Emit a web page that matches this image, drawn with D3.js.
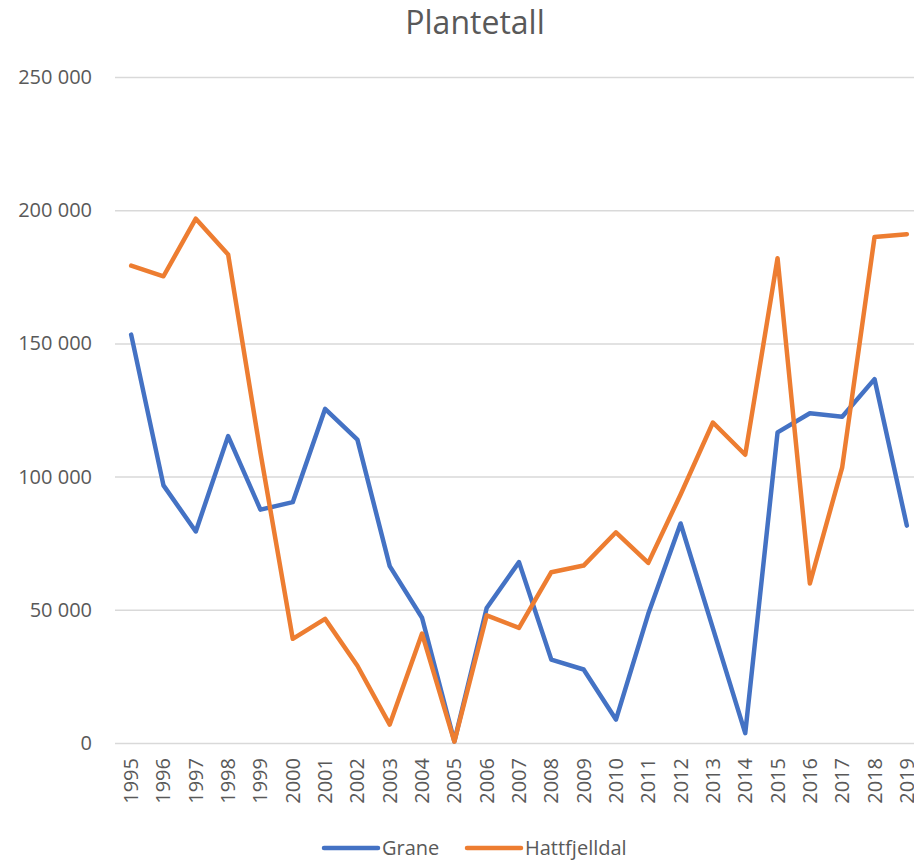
<!DOCTYPE html>
<html>
<head>
<meta charset="utf-8">
<script src="https://cdn.jsdelivr.net/npm/d3@7"></script>
<style>
  body { margin: 0; background: #fff; overflow: hidden; }
  #wrapper { width: 914px; height: 861px; }
  text { font-family: "Open Sans", "Noto Sans", sans-serif; fill: #595959; }
</style>
</head>
<body>
<div id="wrapper"></div>
<script>
// data
const years = ["1995","1996","1997","1998","1999","2000","2001","2002","2003","2004",
  "2005","2006","2007","2008","2009","2010","2011","2012","2013","2014",
  "2015","2016","2017","2018","2019"];
const grane = [153300, 96700, 79400, 115200, 87600, 90400, 125400, 113900, 66400, 47000,
  600, 50700, 67900, 31300, 27600, 8800, 48500, 82400, 43000, 3700,
  116600, 123800, 122500, 136600, 81600];
const hattfjelldal = [179200, 175200, 196800, 183400, 109000, 39100, 46600, 29000, 6900, 41100,
  500, 47900, 43200, 64100, 66600, 79100, 67600, 93300, 120300, 108200,
  182000, 59900, 103500, 189900, 191000];
const seriesNames = ["Grane", "Hattfjelldal"];
const seriesColors = ["#4472C4", "#ED7D31"];
const yTicks = [0, 50000, 100000, 150000, 200000, 250000];

function drawChart() {
    let dimensions = {
        width: 914,
        height: 861,
        margin: { top: 77, right: -9, bottom: 118, left: 115 }
    };
    dimensions.boundedWidth = dimensions.width - dimensions.margin.left - dimensions.margin.right;
    dimensions.boundedHeight = dimensions.height - dimensions.margin.top - dimensions.margin.bottom;

    const svg = d3.select("#wrapper")
        .append("svg")
            .attr("width", dimensions.width)
            .attr("height", dimensions.height);

    svg.append("text")
        .attr("x", 475)
        .attr("y", 34)
        .attr("text-anchor", "middle")
        .style("font-size", "32px")
        .text("Plantetall");

    const bounds = svg.append("g")
        .attr("transform", `translate(${dimensions.margin.left},${dimensions.margin.top})`);

    const xScale = d3.scaleBand()
        .domain(years)
        .range([0, dimensions.boundedWidth]);
    const xPos = d => xScale(d) + xScale.bandwidth() / 2;

    const yScale = d3.scaleLinear()
        .domain([0, 250000])
        .range([dimensions.boundedHeight, 0]);

    // gridlines + y labels
    const fmt = v => d3.format(",")(v).replace(/,/g, " ");
    const yAxis = d3.axisLeft(yScale)
        .tickValues(yTicks)
        .tickSize(-dimensions.boundedWidth)
        .tickPadding(23)
        .tickFormat(fmt);
    const yG = bounds.append("g").call(yAxis);
    yG.select(".domain").remove();
    yG.selectAll(".tick line").attr("stroke", "#d9d9d9").attr("stroke-width", 1.5);
    yG.selectAll(".tick text").style("font-size", "20px").attr("fill", "#595959");

    // x labels
    const xAxis = d3.axisBottom(xScale).tickSize(0).tickPadding(0);
    const xG = bounds.append("g")
        .attr("transform", `translate(0,${dimensions.boundedHeight})`)
        .call(xAxis);
    xG.select(".domain").remove();
    xG.selectAll(".tick text")
        .style("font-size", "20px")
        .attr("fill", "#595959")
        .attr("transform", "rotate(-90)")
        .attr("text-anchor", "end")
        .attr("x", -15)
        .attr("y", 0)
        .attr("dy", "0.35em");

    const line = d3.line()
        .x((d, i) => xPos(years[i]))
        .y(d => yScale(d));

    [grane, hattfjelldal].forEach((values, i) => {
        bounds.append("path")
            .datum(values)
            .attr("fill", "none")
            .attr("stroke", seriesColors[i])
            .attr("stroke-width", 4.5)
            .attr("stroke-linecap", "round")
            .attr("stroke-linejoin", "round")
            .attr("d", line);
    });

    // legend
    const legendX = [324, 467];
    const legendY = 848;
    seriesNames.forEach((name, i) => {
        svg.append("line")
            .attr("x1", legendX[i]).attr("x2", legendX[i] + 54)
            .attr("y1", legendY).attr("y2", legendY)
            .attr("stroke", seriesColors[i])
            .attr("stroke-width", 4.5)
            .attr("stroke-linecap", "round");
        svg.append("text")
            .attr("x", legendX[i] + 58)
            .attr("y", legendY)
            .attr("dy", "0.35em")
            .style("font-size", "20px")
            .text(name);
    });
}

drawChart();
</script>
</body>
</html>
